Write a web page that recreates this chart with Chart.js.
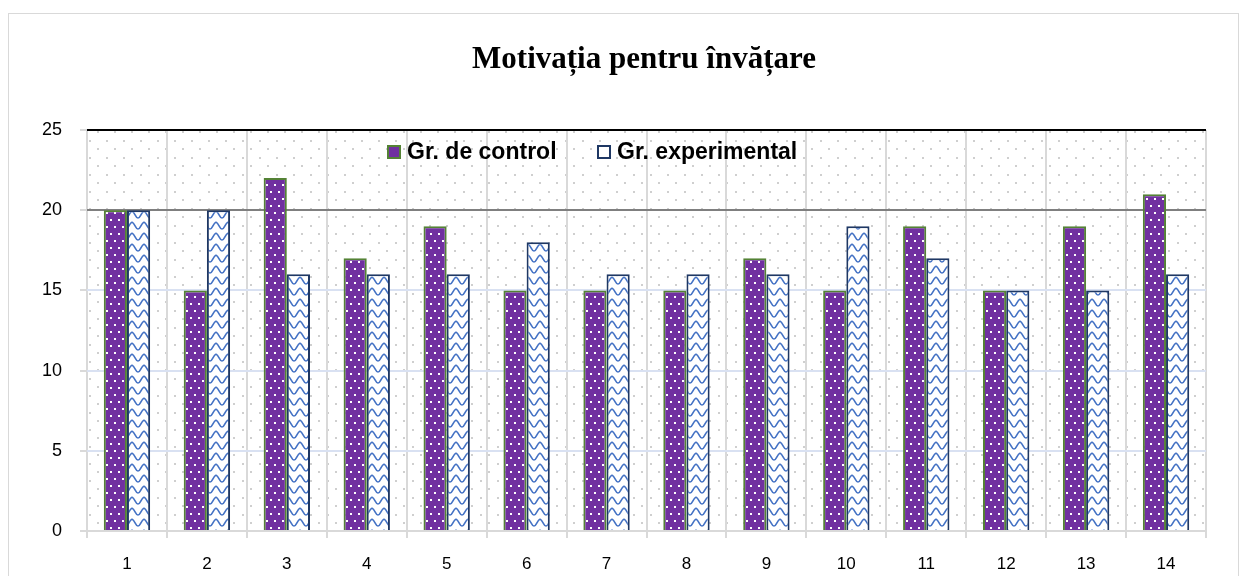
<!DOCTYPE html>
<html>
<head>
<meta charset="utf-8">
<script src="https://cdn.jsdelivr.net/npm/chart.js@4"></script>
<style>
  html, body { margin: 0; padding: 0; background: #fff; }
  #wrap { width: 1248px; height: 576px; }
</style>
</head>
<body>
<div id="wrap"><canvas id="chart"></canvas></div>
<script>
const categories = ['1','2','3','4','5','6','7','8','9','10','11','12','13','14'];
const controlValues = [20, 15, 22, 17, 19, 15, 15, 15, 17, 15, 19, 15, 19, 21];
const experimentalValues = [20, 20, 16, 16, 16, 18, 16, 16, 16, 19, 17, 15, 15, 16];
const seriesNames = ['Gr. de control', 'Gr. experimental'];
const chartTitle = 'Motivația pentru învățare';

// purple with white dots
function dotPattern() {
  const c = document.createElement('canvas');
  c.width = 8; c.height = 14;
  const g = c.getContext('2d');
  g.fillStyle = '#7030a0';
  g.fillRect(0, 0, 8, 14);
  g.fillStyle = '#ffffff';
  g.fillRect(2, 2, 2, 2);
  g.fillRect(6, 9, 2, 2);
  return g.createPattern(c, 'repeat');
}

// white with blue waves
function wavePattern() {
  const c = document.createElement('canvas');
  c.width = 12; c.height = 11;
  const g = c.getContext('2d');
  g.fillStyle = '#ffffff';
  g.fillRect(0, 0, 12, 11);
  g.strokeStyle = '#4472c4';
  g.lineWidth = 1.6;
  g.beginPath();
  g.moveTo(-1, 2);
  g.bezierCurveTo(3, 2, 3, 9, 6, 9);
  g.bezierCurveTo(9, 9, 9, 2, 13, 2);
  g.stroke();
  return g.createPattern(c, 'repeat');
}

// plot area background dots
function bgPattern() {
  const c = document.createElement('canvas');
  c.width = 17; c.height = 17;
  const g = c.getContext('2d');
  g.fillStyle = '#ffffff';
  g.fillRect(0, 0, 17, 17);
  g.fillStyle = '#cfcfcf';
  g.fillRect(4, 4, 2, 2);
  g.fillRect(12, 12, 2, 2);
  return g.createPattern(c, 'repeat');
}

const frame = {
  id: 'frame',
  beforeDraw(chart) {
    const c = chart.ctx, a = chart.chartArea;
    c.save();
    c.fillStyle = '#fff';
    c.fillRect(0, 0, chart.width, chart.height);
    c.strokeStyle = '#d9d9d9';
    c.lineWidth = 1;
    c.strokeRect(8.5, 13.5, 1230, 600);
    c.fillStyle = bgPattern();
    c.fillRect(a.left, a.top, a.right - a.left, a.bottom - a.top);
    c.fillStyle = '#000';
    c.font = 'bold 31px "Liberation Serif"';
    c.textAlign = 'center';
    c.textBaseline = 'middle';
    c.fillText(chartTitle, 644, 60);
    c.restore();
  },
  afterDraw(chart) {
    const c = chart.ctx, a = chart.chartArea;
    const ds = chart.data.datasets;
    c.save();
    c.font = 'bold 23px "Liberation Sans"';
    c.textBaseline = 'middle';
    const y = 152;
    const starts = [a.left + 301, a.left + 511];
    ds.forEach((d, i) => {
      const x = starts[i];
      c.fillStyle = d.legendFill;
      c.fillRect(x, y - 6, 12, 12);
      c.strokeStyle = d.borderColor;
      c.lineWidth = 2;
      c.strokeRect(x, y - 6, 12, 12);
      c.fillStyle = '#000';
      c.fillText(d.label, x + 19, y + 1);
    });
    c.restore();
  }
};

const ctx = document.getElementById('chart');
const chart = new Chart(ctx, {
  type: 'bar',
  data: {
    labels: categories,
    datasets: [{
      label: seriesNames[0],
      data: controlValues,
      backgroundColor: dotPattern(),
      legendFill: '#7030a0',
      borderColor: '#548235',
      borderWidth: 2,
      categoryPercentage: 0.58,
      barPercentage: 1
    }, {
      label: seriesNames[1],
      data: experimentalValues,
      backgroundColor: wavePattern(),
      legendFill: '#ffffff',
      borderColor: '#1f3864',
      borderWidth: 2,
      categoryPercentage: 0.58,
      barPercentage: 1
    }]
  },
  options: {
    responsive: true,
    maintainAspectRatio: false,
    animation: false,
    layout: { padding: { left: 0, right: 42, top: 130, bottom: 0 } },
    plugins: {
      legend: { display: false },
      title: { display: false },
      tooltip: { enabled: false }
    },
    scales: {
      x: {
        offset: true,
        grid: {
          offset: true,
          color: '#d9d9d9',
          lineWidth: 2,
          tickLength: 7,
          drawTicks: true
        },
        border: { display: true, color: '#d9d9d9', width: 2 },
        ticks: {
          color: '#000',
          font: { family: 'Liberation Sans', size: 17 },
          padding: 16
        },
        afterFit: s => { s.height = 45; }
      },
      y: {
        min: 0,
        max: 25,
        ticks: {
          stepSize: 5,
          color: '#000',
          font: { family: 'Liberation Sans', size: 18 },
          padding: 18
        },
        grid: {
          color: c => c.tick.value === 25 ? '#000000' :
                      c.tick.value === 20 ? '#7f7f7f' :
                      c.tick.value === 0 ? '#d9d9d9' : '#d9e1f2',
          lineWidth: 2,
          tickColor: '#d9d9d9',
          tickLength: 7
        },
        border: { display: false },
        afterFit: s => { s.width = 87; }
      }
    }
  },
  plugins: [frame]
});
</script>
</body>
</html>
